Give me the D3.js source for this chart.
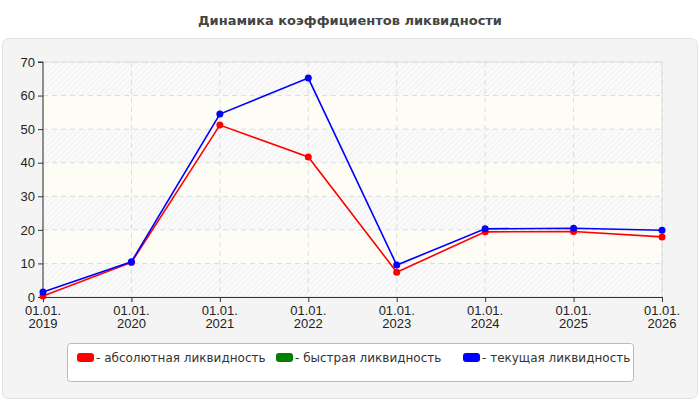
<!DOCTYPE html>
<html><head><meta charset="utf-8">
<script src="https://cdn.jsdelivr.net/npm/d3@7"></script>
<style>body{margin:0;background:#fff}</style>
</head><body><svg id="c" width="700" height="400" font-family="'Liberation Sans',Arial,sans-serif"></svg>
<script>
const categories=["01.01.\n2019","01.01.\n2020","01.01.\n2021","01.01.\n2022","01.01.\n2023","01.01.\n2024","01.01.\n2025","01.01.\n2026"];
const absolute=[0.3,10.3,51.2,41.7,7.4,19.4,19.5,17.9];
const current=[1.5,10.5,54.5,65.2,9.5,20.3,20.5,19.9];
const yTicks=[0,10,20,30,40,50,60,70];
const legendLabels=["- абсолютная ликвидность","- быстрая ликвидность","- текущая ликвидность"];
const legendColors=["#ff0000","#008000","#0000ff"];

const svg=d3.select("#c");
const defs=svg.append("defs");
const pat=defs.append("pattern").attr("id","h").attr("patternUnits","userSpaceOnUse").attr("width",4).attr("height",4).attr("patternTransform","rotate(45)");
pat.append("rect").attr("width",4).attr("height",4).attr("fill","#fafafa");
pat.append("line").attr("x1",0).attr("y1",0).attr("x2",0).attr("y2",4).attr("stroke","#efefef").attr("stroke-width",1.5);

svg.append("text").attr("x",350).attr("y",25).attr("text-anchor","middle").attr("font-size",13).attr("font-weight","bold").attr("fill","#444").attr("font-family","'DejaVu Sans',Verdana,sans-serif").text("Динамика коэффициентов ликвидности");
svg.append("rect").attr("x",2.5).attr("y",38.5).attr("width",695).attr("height",360).attr("rx",6).attr("fill","#f4f4f4").attr("stroke","#e2e2e2");

const L=43,R=662,T=62,B=297;
const x=d3.scalePoint().domain(categories).range([L,R]);
const y=d3.scaleLinear().domain([0,70]).range([B,T]);
svg.append("rect").attr("x",L).attr("y",T).attr("width",R-L).attr("height",B-T).attr("fill","url(#h)");
for(let i=0;i<7;i++) if(i%2==1) svg.append("rect").attr("x",L).attr("y",y(yTicks[i+1])).attr("width",R-L).attr("height",y(yTicks[i])-y(yTicks[i+1])).attr("fill","#fdfdf6");
svg.append("rect").attr("x",L).attr("y",T).attr("width",R-L).attr("height",B-T).attr("fill","none").attr("stroke","#e0e0e0");
const g=svg.append("g");
yTicks.slice(1).forEach(t=>g.append("line").attr("x1",L).attr("x2",R).attr("y1",y(t)).attr("y2",y(t)).attr("stroke","#dcdcdc").attr("stroke-dasharray","5,4"));
categories.slice(1).forEach(c=>g.append("line").attr("x1",x(c)).attr("x2",x(c)).attr("y1",T).attr("y2",B).attr("stroke","#dcdcdc").attr("stroke-dasharray","5,4"));

const ya=svg.append("g").attr("transform",`translate(${L},0)`).call(d3.axisLeft(y).tickValues(yTicks).tickSize(5).tickPadding(3));
const xa=svg.append("g").attr("transform",`translate(0,${B})`).call(d3.axisBottom(x).tickSize(5).tickFormat(""));
[ya,xa].forEach(a=>{a.select(".domain").attr("stroke","#333");a.selectAll("line").attr("stroke","#333");a.selectAll("text").attr("font-size",13).attr("fill","#222").attr("font-family","'Liberation Sans',Arial,sans-serif");});
ya.select(".domain").attr("d",`M-5,${T}H0V${B}`);
categories.forEach(c=>{const lines=c.split("\n");const t=svg.append("text").attr("x",x(c)).attr("y",B+18).attr("text-anchor","middle").attr("font-size",13).attr("fill","#222");
lines.forEach((l,i)=>t.append("tspan").attr("x",x(c)).attr("dy",i?13:0).text(l));});

function series(vals,col){
 const line=d3.line().x((d,i)=>x(categories[i])).y(d=>y(d));
 svg.append("path").datum(vals).attr("d",line).attr("fill","none").attr("stroke",col).attr("stroke-width",1.6);
 svg.selectAll(null).data(vals).enter().append("circle").attr("cx",(d,i)=>x(categories[i])).attr("cy",d=>y(d)).attr("r",3.5).attr("fill",col);
}
series(absolute,"#ff0000");
series(current,"#0000ff");

svg.append("rect").attr("x",67.5).attr("y",343.5).attr("width",566).attr("height",38).attr("rx",3).attr("fill","#fff").attr("stroke","#bbb");
const lx=[77,276,463];
legendLabels.forEach((l,i)=>{
 svg.append("rect").attr("x",lx[i]).attr("y",353).attr("width",17).attr("height",9).attr("rx",3).attr("fill",legendColors[i]);
 svg.append("text").attr("x",lx[i]+19).attr("y",362).attr("font-size",12).attr("fill","#333").attr("font-family","'DejaVu Sans',Verdana,sans-serif").text(l);
});
</script></body></html>
